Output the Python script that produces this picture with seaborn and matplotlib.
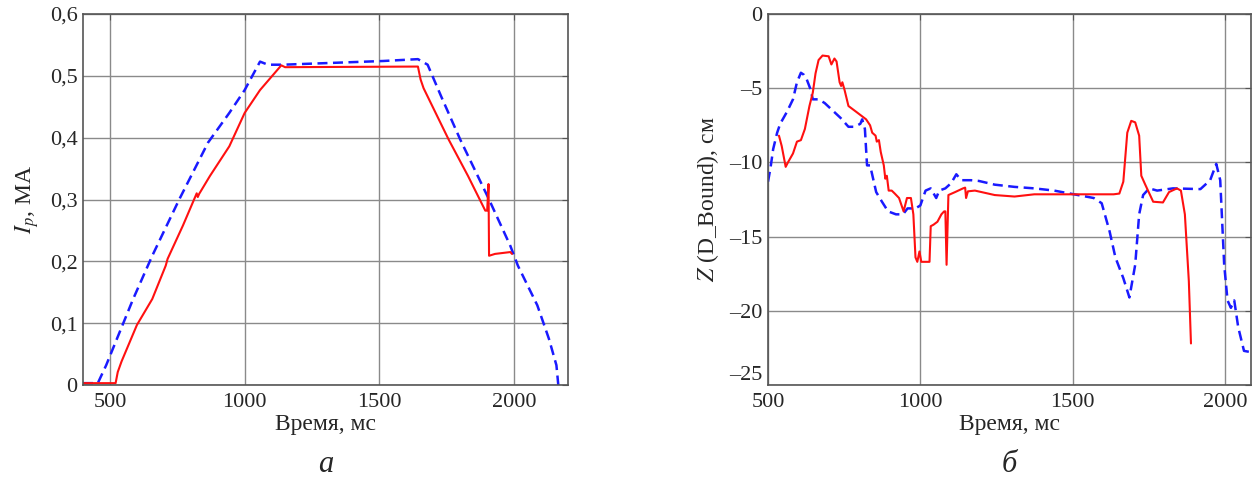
import numpy as np
import pandas as pd
import matplotlib
matplotlib.use("Agg")
import matplotlib.pyplot as plt
from matplotlib.ticker import FuncFormatter
import seaborn as sns

# ---- Panel a: plasma current, MA ----
a_red_t = [400, 521, 529, 543, 600, 657, 707, 714, 771, 822, 826, 831, 871, 943, 1000,
           1057, 1136, 1150, 1643, 1653, 1664, 1757, 1829, 1893, 1900, 1905, 1907,
           1929, 1986, 1992]
a_red_i = [0.003, 0.003, 0.021, 0.038, 0.097, 0.139, 0.193, 0.204, 0.258, 0.310, 0.304,
           0.309, 0.338, 0.386, 0.440, 0.477, 0.517, 0.514, 0.515, 0.494, 0.480, 0.397,
           0.338, 0.282, 0.282, 0.325, 0.209, 0.212, 0.215, 0.212]
a_blue_t = [400, 455, 486, 586, 657, 757, 864, 943, 1000, 1057, 1086, 1143, 1514, 1643,
            1679, 1729, 1800, 1907, 1986, 2014, 2086, 2129, 2157, 2164]
a_blue_i = [0.003, 0.003, 0.032, 0.139, 0.209, 0.300, 0.392, 0.440, 0.477, 0.523, 0.518,
            0.518, 0.524, 0.527, 0.518, 0.467, 0.397, 0.300, 0.225, 0.193, 0.129, 0.075,
            0.032, 0.0]

# ---- Panel b: Z(D_Bound), cm ----
b_red_t = [536, 545, 558, 566, 582, 595, 608, 621, 636, 647, 656, 666, 679, 699, 708, 718,
           725, 735, 740, 744, 751, 764, 790, 822, 835, 842, 853, 857, 864, 870, 880, 885,
           890, 896, 906, 916, 930, 945, 956, 969, 977, 984, 990, 997, 1003, 1030, 1034,
           1043, 1056, 1069, 1078, 1082, 1086, 1092, 1114, 1140, 1147, 1150, 1156, 1179,
           1244, 1309, 1374, 1503, 1634, 1653, 1666, 1679, 1692, 1705, 1718, 1725, 1738,
           1764, 1796, 1816, 1842, 1855, 1868, 1881, 1888]
b_red_z = [-8.2, -8.9, -10.3, -9.98, -9.4, -8.6, -8.5, -7.75, -6.2, -5.3, -4.0, -3.1, -2.8,
           -2.85, -3.4, -3.0, -3.2, -4.6, -4.85, -4.6, -5.1, -6.2, -6.6, -7.1, -7.5, -8.0,
           -8.2, -8.6, -8.5, -9.3, -10.2, -11.1, -10.9, -11.9, -11.9, -12.1, -12.4, -13.3,
           -12.4, -12.4, -13.5, -16.4, -16.7, -16.0, -16.7, -16.7, -14.3, -14.2, -14.0,
           -13.5, -13.3, -13.3, -16.9, -12.2, -12.0, -11.75, -11.7, -12.4, -11.95, -11.9,
           -12.2, -12.3, -12.15, -12.15, -12.15, -12.1, -11.3, -8.0, -7.2, -7.3, -8.2,
           -10.9, -11.5, -12.65, -12.7, -12.0, -11.75, -11.9, -13.5, -18.0, -22.2]
b_blue_t = [500, 508, 517, 530, 540, 562, 582, 595, 608, 618, 627, 640, 647, 666, 686, 712,
            738, 764, 783, 803, 809, 818, 825, 835, 855, 874, 894, 920, 943, 958, 984,
            1000, 1017, 1034, 1052, 1062, 1082, 1101, 1118, 1134, 1166, 1192, 1244, 1309,
            1374, 1439, 1504, 1569, 1595, 1621, 1640, 1666, 1686, 1705, 1718, 1731, 1751,
            1777, 1829, 1919, 1951, 1971, 1984, 1997, 2008, 2019, 2030, 2043, 2062, 2088]
b_blue_z = [-11.3, -10.4, -9.1, -8.0, -7.4, -6.6, -5.75, -4.6, -3.96, -4.1, -4.4, -5.1,
            -5.75, -5.75, -6.0, -6.5, -7.0, -7.6, -7.6, -7.4, -7.1, -7.75, -10.2, -10.2,
            -12.0, -12.65, -13.3, -13.5, -13.5, -13.1, -13.1, -12.9, -11.9, -11.75, -12.4,
            -11.9, -11.75, -11.4, -10.8, -11.2, -11.2, -11.25, -11.5, -11.65, -11.75, -11.9,
            -12.15, -12.4, -12.75, -14.65, -16.4, -17.8, -19.1, -16.9, -13.5, -12.2, -11.75,
            -11.9, -11.75, -11.8, -11.2, -10.1, -11.2, -16.9, -19.3, -19.8, -19.3, -21.1,
            -22.7, -22.8]

a_yticks = [0, 0.1, 0.2, 0.3, 0.4, 0.5, 0.6]
a_xticks = [500, 1000, 1500, 2000]
b_yticks = [0, -5, -10, -15, -20, -25]
b_xticks = [500, 1000, 1500, 2000]

sns.set_style("white")
plt.rcParams['font.family'] = ['Liberation Serif', 'DejaVu Serif']
plt.rcParams['mathtext.fontset'] = 'stix'

RED = "#ff1010"
BLUE = "#1a1aff"

fig = plt.figure(figsize=(12.58, 4.84), dpi=100)
ax1 = fig.add_axes([83 / 1258, 1 - 385 / 484, 485 / 1258, 371 / 484])
ax2 = fig.add_axes([768 / 1258, 1 - 385 / 484, 483 / 1258, 371 / 484])

df_a_red = pd.DataFrame({"t": a_red_t, "v": a_red_i})
df_a_blue = pd.DataFrame({"t": a_blue_t, "v": a_blue_i})
df_b_red = pd.DataFrame({"t": b_red_t, "v": b_red_z})
df_b_blue = pd.DataFrame({"t": b_blue_t, "v": b_blue_z})

for ax, dr, db in [(ax1, df_a_red, df_a_blue), (ax2, df_b_red, df_b_blue)]:
    sns.lineplot(data=db, x="t", y="v", ax=ax, sort=False, estimator=None,
                 color=BLUE, lw=1.8, linestyle=(0, (4, 2.2)))
    sns.lineplot(data=dr, x="t", y="v", ax=ax, sort=False, estimator=None,
                 color=RED, lw=1.5)

def fmt_a(v, pos):
    if abs(v) < 1e-9:
        return "0"
    return f"{v:.1f}".replace(".", ",")

def fmt_b(v, pos):
    if abs(v) < 1e-9:
        return "0"
    return f"{v:.0f}".replace("-", "\u2013")

ax1.set_xlim(400, 2200)
ax1.set_ylim(0, 0.6)
ax1.set_xticks(a_xticks)
ax1.set_yticks(a_yticks)
ax1.yaxis.set_major_formatter(FuncFormatter(fmt_a))
ax1.set_xlabel("Время, мс", fontsize=17, labelpad=1)
ax1.set_ylabel("$I_p$, МА", fontsize=17, labelpad=6)

ax2.set_xlim(500, 2085)
ax2.set_ylim(-25, 0)
ax2.set_xticks(b_xticks)
ax2.set_yticks(b_yticks)
ax2.yaxis.set_major_formatter(FuncFormatter(fmt_b))
ax2.set_xlabel("Время, мс", fontsize=17, labelpad=1)
ax2.set_ylabel("$Z$ (D_Bound), см", fontsize=17, labelpad=6)

for ax in (ax1, ax2):
    ax.grid(True, color="#8a8a8a", lw=1.0)
    ax.set_axisbelow(True)
    for s in ax.spines.values():
        s.set_color("#555555")
        s.set_linewidth(1.2)
    ax.tick_params(axis="both", labelsize=16, direction="in", length=4,
                   color="#555555", top=True, right=True)
    ax.tick_params(axis="x", pad=6)
    ax.tick_params(axis="y", pad=4)

# lift the lowest y label on the right panel slightly, as in the reference
for lbl in ax2.get_yticklabels():
    if lbl.get_text() == "\u201325":
        lbl.set_va("bottom")

fig.text((83 + 568) / 2 / 1258, 1 - 465 / 484, "а", fontsize=22, style="italic",
         ha="center", va="center")
fig.text((768 + 1251) / 2 / 1258, 1 - 465 / 484, "б", fontsize=22, style="italic",
         ha="center", va="center")

fig.savefig("out.png", dpi=100, facecolor="white")
